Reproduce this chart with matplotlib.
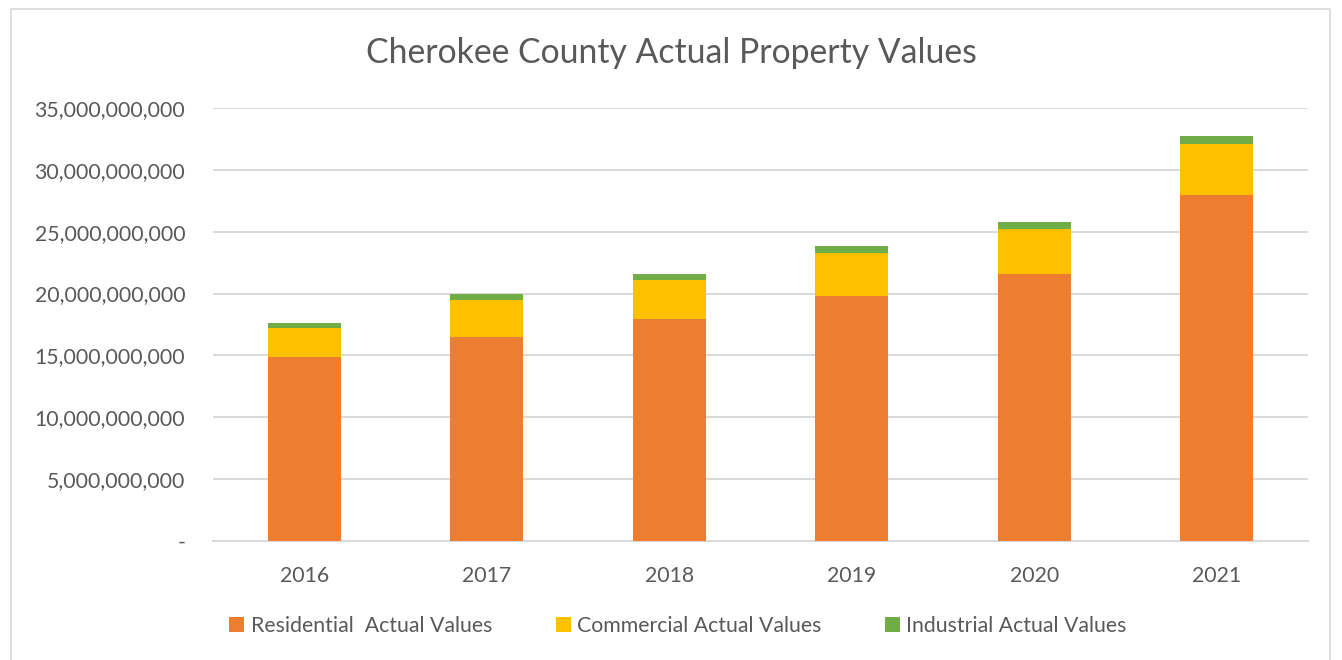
import matplotlib.pyplot as plt
import matplotlib.ticker as mticker
from matplotlib.patches import Rectangle

years = ['2016', '2017', '2018', '2019', '2020', '2021']
residential = [14.85e9, 16.49e9, 17.95e9, 19.84e9, 21.56e9, 27.94e9]
commercial = [2.37e9, 2.99e9, 3.12e9, 3.44e9, 3.63e9, 4.11e9]
industrial = [0.41e9, 0.48e9, 0.53e9, 0.59e9, 0.62e9, 0.72e9]

plt.rcParams['font.family'] = ['Lato', 'DejaVu Sans']
txt = '#595959'

fig = plt.figure(figsize=(13.42, 6.6), dpi=100)
ax = fig.add_axes([213 / 1342, 1 - 541 / 660, 1095 / 1342, 433 / 660])

# outer chart border
fig.patches.append(Rectangle((11 / 1342, -0.01), 1319 / 1342, 1 - 9 / 660 + 0.01,
                             transform=fig.transFigure, fill=False,
                             edgecolor='#d9d9d9', linewidth=1.2))

x = range(len(years))
bottom2 = [r + c for r, c in zip(residential, commercial)]
ax.bar(x, residential, width=0.4, color='#ed7d31', label='Residential  Actual Values', zorder=3)
ax.bar(x, commercial, width=0.4, bottom=residential, color='#ffc000', label='Commercial Actual Values', zorder=3)
ax.bar(x, industrial, width=0.4, bottom=bottom2, color='#70ad47', label='Industrial Actual Values', zorder=3)

ax.set_xlim(-0.5, 5.5)
ax.set_ylim(0, 35e9)
ax.set_yticks([i * 5e9 for i in range(8)])
ax.yaxis.set_major_formatter(mticker.FuncFormatter(lambda v, p: '-' if v == 0 else f'{v:,.0f}'))
ax.set_xticks(list(x))
ax.set_xticklabels(years)
ax.grid(axis='y', color='#d9d9d9', linewidth=1.4, zorder=0)
for s in ['top', 'right', 'left']:
    ax.spines[s].set_visible(False)
ax.spines['bottom'].set_color('#d9d9d9')
ax.spines['bottom'].set_linewidth(1.4)
ax.tick_params(length=0, colors=txt, labelsize=15.3)
ax.tick_params(axis='y', pad=20)
ax.tick_params(axis='x', pad=18)

fig.text(0.5, 1 - 53 / 660, 'Cherokee County Actual Property Values', ha='center', va='center',
         fontsize=24.3, color=txt)

fig.legend(loc='center', bbox_to_anchor=(0.5 + 7 / 1342, 1 - 626 / 660), ncol=3, frameon=False,
           fontsize=15.3, labelcolor=txt, handlelength=0.7, handleheight=0.7,
           handletextpad=0.3, columnspacing=3.0)

fig.savefig('out.png', dpi=100, facecolor='white')
